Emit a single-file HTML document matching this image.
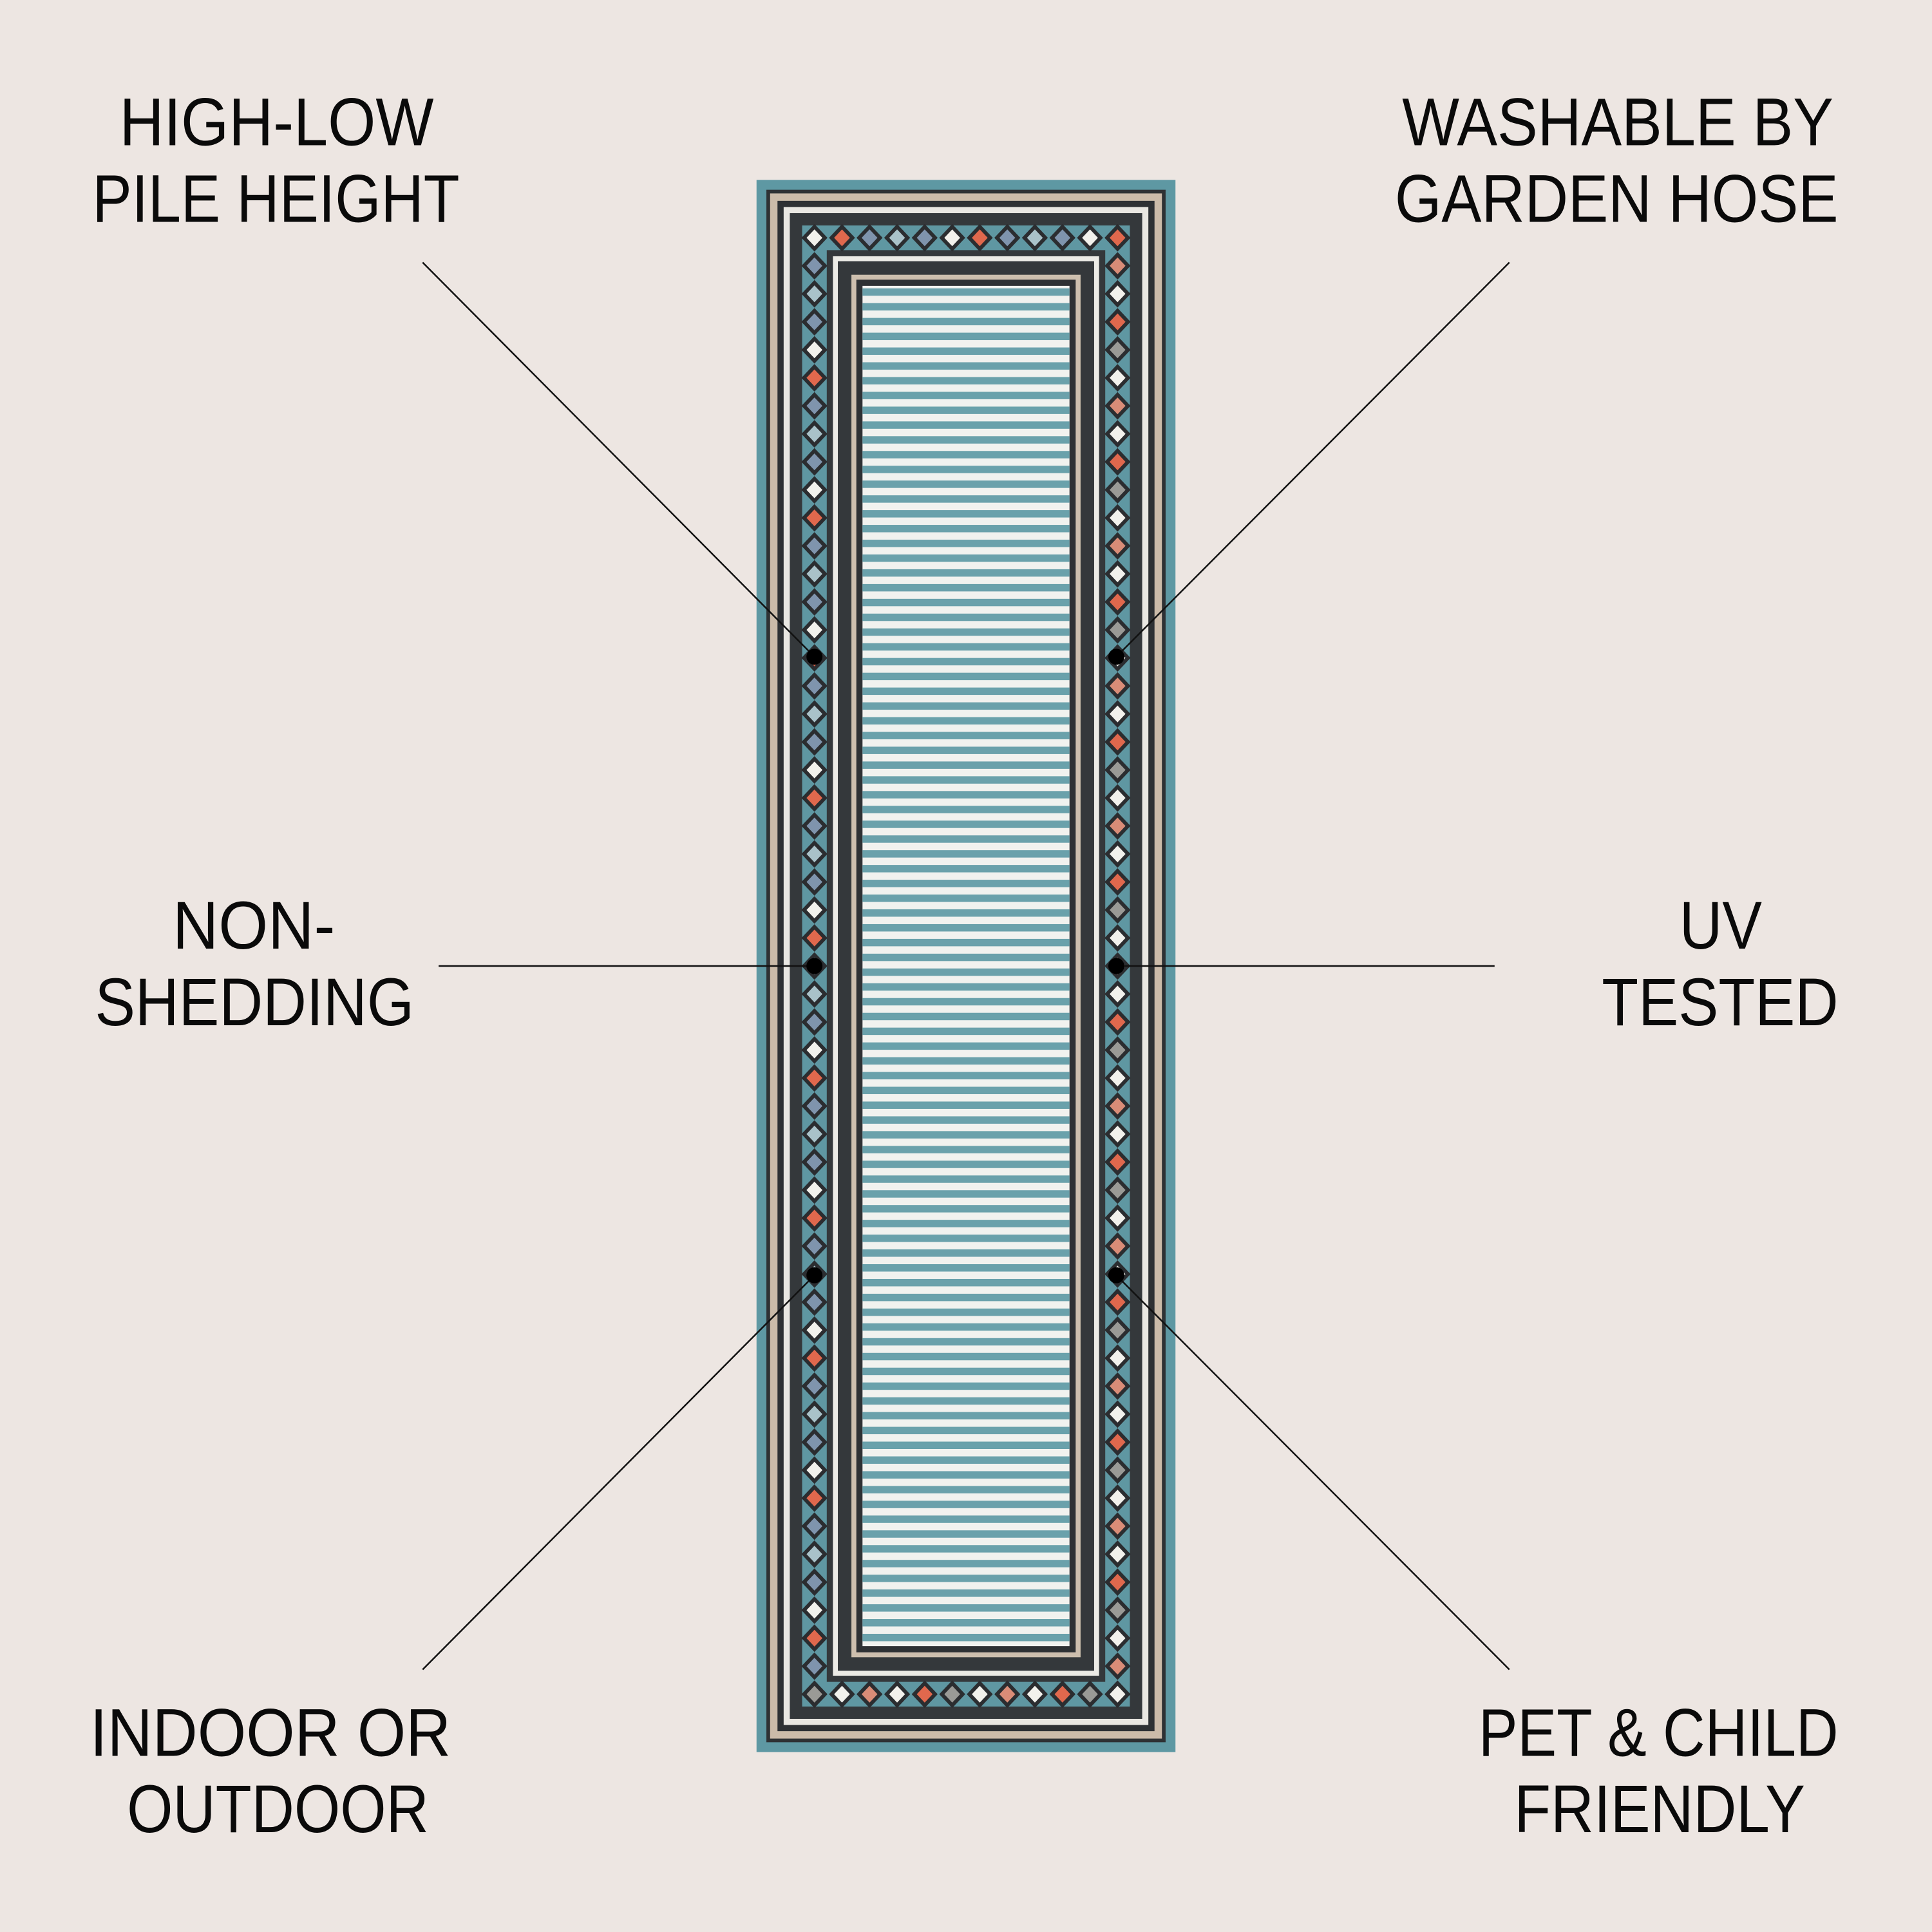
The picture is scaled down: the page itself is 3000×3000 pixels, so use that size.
<!DOCTYPE html>
<html><head><meta charset="utf-8">
<style>
html,body{margin:0;padding:0;background:#ede6e2;}
svg{display:block;}
text{font-family:"Liberation Sans",sans-serif;font-size:55px;fill:#0a0a0a;}
</style></head>
<body>
<svg id="s" width="3000" height="3000" viewBox="0 0 1568 1568" xmlns="http://www.w3.org/2000/svg">
<rect width="1568" height="1568" fill="#ede6e2"/>
<g id="rug"></g>
<g id="ov">
<g stroke="#111" stroke-width="1.3">
<line x1="343" y1="213" x2="661" y2="533"/>
<line x1="1225" y1="213" x2="906" y2="533"/>
<line x1="356" y1="784" x2="661" y2="784"/>
<line x1="1213" y1="784" x2="906" y2="784"/>
<line x1="343" y1="1355" x2="661" y2="1035"/>
<line x1="1225" y1="1355" x2="906" y2="1035"/>
</g>
<g fill="#000">
<circle cx="661" cy="533" r="6.5"/><circle cx="906" cy="533" r="6.5"/>
<circle cx="661" cy="784" r="6.5"/><circle cx="906" cy="784" r="6.5"/>
<circle cx="661" cy="1035" r="6.5"/><circle cx="906" cy="1035" r="6.5"/>
</g>
</g>
<text x="97" y="118" textLength="255" lengthAdjust="spacingAndGlyphs">HIGH-LOW</text>
<text x="75" y="180" textLength="298" lengthAdjust="spacingAndGlyphs">PILE HEIGHT</text>
<text x="1138" y="118" textLength="350" lengthAdjust="spacingAndGlyphs">WASHABLE BY</text>
<text x="1132" y="180" textLength="360" lengthAdjust="spacingAndGlyphs">GARDEN HOSE</text>
<text x="140" y="770" textLength="132" lengthAdjust="spacingAndGlyphs">NON-</text>
<text x="77" y="832" textLength="259" lengthAdjust="spacingAndGlyphs">SHEDDING</text>
<text x="1363" y="770" textLength="67" lengthAdjust="spacingAndGlyphs">UV</text>
<text x="1300" y="832" textLength="192" lengthAdjust="spacingAndGlyphs">TESTED</text>
<text x="73" y="1425" textLength="293" lengthAdjust="spacingAndGlyphs">INDOOR OR</text>
<text x="103" y="1487" textLength="245" lengthAdjust="spacingAndGlyphs">OUTDOOR</text>
<text x="1200" y="1425" textLength="292" lengthAdjust="spacingAndGlyphs">PET &amp; CHILD</text>
<text x="1229" y="1487" textLength="236" lengthAdjust="spacingAndGlyphs">FRIENDLY</text>
</svg>
<script>
(function(){
var NS="http://www.w3.org/2000/svg",g=document.getElementById("rug");
function r(x,y,w,h,f){var e=document.createElementNS(NS,"rect");e.setAttribute("x",x);e.setAttribute("y",y);e.setAttribute("width",w);e.setAttribute("height",h);e.setAttribute("fill",f);g.appendChild(e);}
var X=614,Y=146,W=340,H=1276;
var bands=[[0,"#5e98a3"],[8,"#2e3134"],[11,"#cbbba9"],[17,"#2e3134"],[22,"#e9e7e2"],[27,"#34383b"],[37,"#5f97a2"],[57,"#34383b"],[62,"#ecebe6"],[66,"#34383b"],[77,"#cdbfae"],[81,"#2e3134"],[86,"#f1f2ef"]];
bands.forEach(function(b){var o=b[0];r(X+o,Y+o,W-2*o,H-2*o,b[1]);});
var fx=X+86,fy=Y+86,fw=W-172,fh=H-172;
for(var y=fy+2;y<fy+fh-4;y+=12){r(fx,y,fw,6,"#6aa1ab");}
var cols=["#f2f1ec","#9a9a96","#e0684d","#f2f1ec","#7f94ad","#d98c77","#a9c2c9","#f2f1ec","#7f94ad","#e0684d"];
var ci=0;
function d(cx,cy){var p=document.createElementNS(NS,"polygon");p.setAttribute("points",(cx)+","+(cy-9)+" "+(cx+8.5)+","+cy+" "+cx+","+(cy+9)+" "+(cx-8.5)+","+cy);p.setAttribute("fill",cols[ci%cols.length]);p.setAttribute("stroke","#2b2d30");p.setAttribute("stroke-width","3");g.appendChild(p);ci++;}
var L=X+47,R=X+W-47,T=Y+47,B=Y+H-47;
var nx=11,ny=52;
for(var i=0;i<=nx;i++){var x=L+(R-L)*i/nx;d(x,T);d(x,B);}
for(var j=1;j<ny;j++){var y=T+(B-T)*j/ny;d(L,y);d(R,y);}
})();
</script>
</body></html>
